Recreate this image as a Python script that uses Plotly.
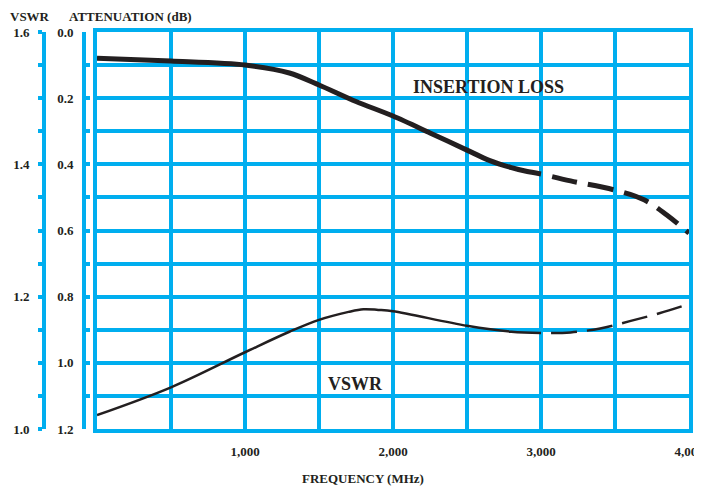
import plotly.graph_objects as go

# --- data ---
freq_il_solid = [0, 500, 1000, 1300, 1500, 1750, 2000, 2250, 2500, 2650, 2800, 2900, 3000]
il_solid = [0.079, 0.088, 0.100, 0.124, 0.160, 0.210, 0.254, 0.305, 0.357, 0.388, 0.410, 0.421, 0.429]
freq_il_dash = [3000, 3200, 3500, 3700, 3850, 4000]
il_dash = [0.429, 0.450, 0.478, 0.508, 0.553, 0.608]

freq_vswr_solid = [0, 500, 1000, 1300, 1500, 1700, 1800, 1900, 2000, 2500, 2800, 3000]
vswr_solid = [1.021, 1.063, 1.116, 1.147, 1.165, 1.177, 1.181, 1.180, 1.178, 1.156, 1.147, 1.145]
freq_vswr_dash = [3000, 3200, 3400, 3600, 3800, 4000]
vswr_dash = [1.145, 1.146, 1.152, 1.163, 1.175, 1.189]

freq_ticks = [0, 500, 1000, 1500, 2000, 2500, 3000, 3500, 4000]
freq_labels = ["", "", "1,000", "", "2,000", "", "3,000", "", "4,000"]
atten_ticks = [round(i * 0.1, 1) for i in range(13)]
atten_labels = [f"{v:.1f}" if i % 2 == 0 else "" for i, v in enumerate(atten_ticks)]
vswr_ticks = [round(1.0 + i * 0.05, 2) for i in range(13)]
vswr_labels = [f"{v:.1f}" if i % 4 == 0 else "" for i, v in enumerate(vswr_ticks)]

BLUE = "#00AEEF"
INK = "#231F20"
FONT = "Liberation Serif"

# page body has an 8px margin, so the figure is laid out 8px smaller
OFF = 8
W, H = 702 - OFF, 487 - OFF
L, R, T, B = 0, 13, 32 - OFF, 58
PW = W - L - R
PH = H - T - B


def px_x(x):
    # page pixel -> paper x
    return (x - OFF - L) / PW


def px_y(y):
    # page pixel -> paper y
    return (H - B - (y - OFF)) / PH


fig = go.Figure()

fig.add_trace(go.Scatter(x=freq_il_solid, y=il_solid, mode="lines", yaxis="y",
                         line=dict(color=INK, width=5, shape="spline", smoothing=0.8),
                         showlegend=False))
fig.add_trace(go.Scatter(x=freq_il_dash, y=il_dash, mode="lines", yaxis="y",
                         line=dict(color=INK, width=5, shape="spline", dash="0px,11px,26px,0px"),
                         showlegend=False))
fig.add_trace(go.Scatter(x=freq_vswr_solid, y=vswr_solid, mode="lines", yaxis="y3",
                         line=dict(color=INK, width=2.5, shape="spline"), showlegend=False))
fig.add_trace(go.Scatter(x=freq_vswr_dash, y=vswr_dash, mode="lines", yaxis="y3",
                         line=dict(color=INK, width=2.5, shape="spline", dash="0px,10px,26px,0px"),
                         showlegend=False))
# keeps yaxis2 drawn
fig.add_trace(go.Scatter(x=[None], y=[None], yaxis="y2", showlegend=False, hoverinfo="skip"))

tick_font = dict(family=FONT, size=13, color=INK, weight="bold")

fig.update_layout(
    width=W, height=H,
    margin=dict(l=L, r=R, t=T, b=B, autoexpand=False),
    paper_bgcolor="white", plot_bgcolor="white",
    font=dict(family=FONT, color=INK),
    xaxis=dict(
        domain=[px_x(97), 1], range=[0, 4000],
        tickmode="array", tickvals=freq_ticks, ticktext=freq_labels,
        showgrid=True, gridcolor=BLUE, gridwidth=4,
        showline=True, linecolor=BLUE, linewidth=4, mirror=True,
        ticks="", zeroline=False, automargin=False,
        tickfont=tick_font, ticklabelstandoff=7, ticklabeloverflow="allow",
    ),
    yaxis=dict(
        range=[1.2, 0], tickmode="array", tickvals=atten_ticks,
        showgrid=True, gridcolor=BLUE, gridwidth=4,
        showline=True, linecolor=BLUE, linewidth=4, mirror=True,
        showticklabels=False, ticks="", zeroline=False,
    ),
    yaxis2=dict(
        overlaying="y", anchor="free", position=px_x(84), side="left",
        range=[1.2, 0], tickmode="array", tickvals=atten_ticks, ticktext=atten_labels,
        showgrid=False, zeroline=False, automargin=False,
        showline=True, linecolor=BLUE, linewidth=4,
        ticks="inside", ticklen=4, tickwidth=4, tickcolor=BLUE,
        tickfont=tick_font, ticklabelstandoff=6,
    ),
    yaxis3=dict(
        overlaying="y", anchor="free", position=px_x(44), side="left",
        range=[1.0, 1.6], tickmode="array", tickvals=vswr_ticks, ticktext=vswr_labels,
        showgrid=False, zeroline=False, automargin=False,
        showline=True, linecolor=BLUE, linewidth=4,
        ticks="outside", ticklen=4, tickwidth=4, tickcolor=BLUE,
        tickfont=tick_font, ticklabelstandoff=6,
    ),
)

bold = dict(family=FONT, color=INK, weight="bold")
fig.add_annotation(text="INSERTION LOSS", x=2642, y=0.166, xref="x", yref="y",
                   xanchor="center", yanchor="middle",
                   showarrow=False, font=dict(size=18, **bold))
fig.add_annotation(text="VSWR", x=1746, y=1.063, xref="x", yref="y",
                   xanchor="center", yanchor="middle",
                   showarrow=False, font=dict(size=18, **bold))
fig.add_annotation(text="VSWR", x=px_x(30), y=px_y(16), xref="paper", yref="paper",
                   xanchor="center", yanchor="middle",
                   showarrow=False, font=dict(size=13, **bold))
fig.add_annotation(text="ATTENUATION (dB)", x=px_x(131), y=px_y(16), xref="paper", yref="paper",
                   xanchor="center", yanchor="middle",
                   showarrow=False, font=dict(size=13, **bold))
fig.add_annotation(text="FREQUENCY (MHz)", x=px_x(363), y=px_y(478), xref="paper", yref="paper",
                   xanchor="center", yanchor="middle",
                   showarrow=False, font=dict(size=13, **bold))

fig.write_html("out.html")
